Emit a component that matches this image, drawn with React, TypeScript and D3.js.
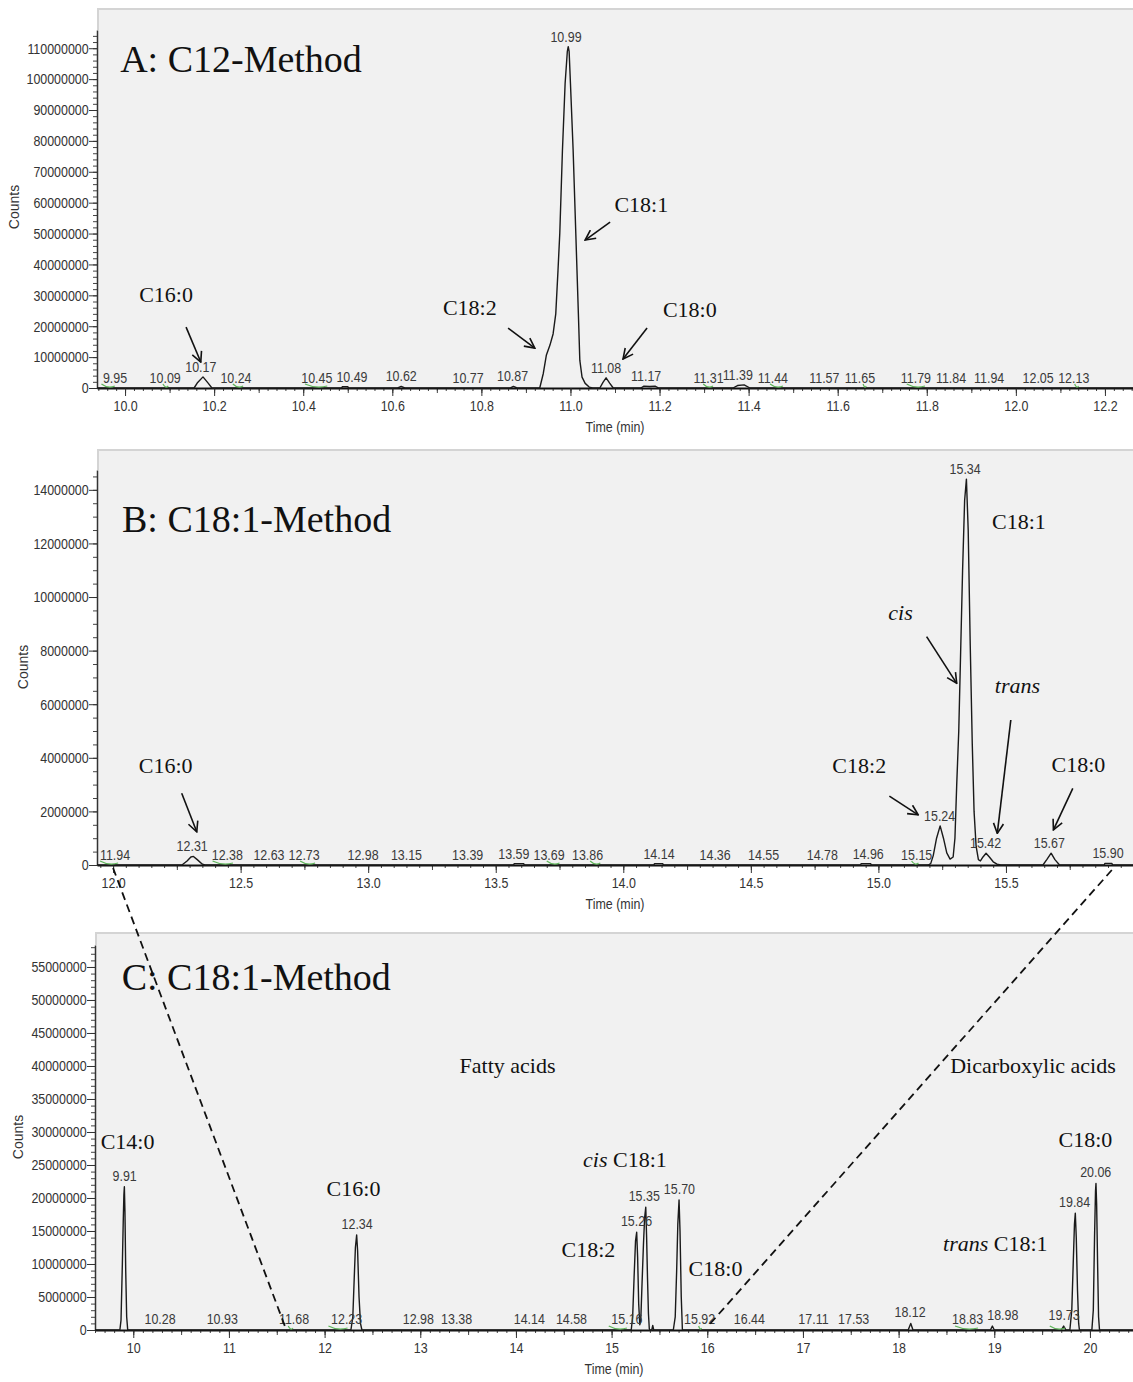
import React, { useRef, useEffect } from "react";
import * as d3 from "d3";

// ---- Panel A: C12-Method (time in min, counts) ----
const traceA: [number, number][] = [
  [9.937, 0], [10.155, 0], [10.163, 1.8e6], [10.175, 3.6e6], [10.187, 1.5e6], [10.195, 0],
  [10.486, 0], [10.488, 0.4e6], [10.5, 0.4e6], [10.502, 0],
  [10.612, 0], [10.62, 0.5e6], [10.628, 0],
  [10.865, 0], [10.872, 0.5e6], [10.88, 0],
  [10.931, 0], [10.939, 4.7e6], [10.946, 10.7e6], [10.954, 13.9e6], [10.961, 17.5e6], [10.967, 24e6],
  [10.972, 38e6], [10.976, 50e6], [10.982, 77e6], [10.988, 98.6e6], [10.993, 109e6], [10.995, 110.5e6],
  [10.997, 109e6], [11.0, 98.6e6], [11.006, 77e6], [11.012, 50e6], [11.018, 23e6], [11.021, 9e6],
  [11.026, 3.5e6], [11.033, 1.5e6], [11.042, 0.3e6], [11.05, 0],
  [11.066, 0], [11.073, 1.8e6], [11.08, 3.3e6], [11.088, 1.6e6], [11.096, 0],
  [11.158, 0], [11.165, 0.6e6], [11.178, 0.5e6], [11.19, 0.6e6], [11.198, 0],
  [11.365, 0], [11.375, 0.8e6], [11.39, 1.0e6], [11.403, 0],
  [12.263, 0],
];
const rtLabelsA = [9.95, 10.09, 10.17, 10.24, 10.45, 10.49, 10.62, 10.77, 10.87, 10.99, 11.08, 11.17,
  11.31, 11.39, 11.44, 11.57, 11.65, 11.79, 11.84, 11.94, 12.05, 12.13];
const greenA: [number, number][] = [[9.947, 9.977], [10.085, 10.097], [10.242, 10.265], [10.404, 10.454],
  [11.298, 11.32], [11.448, 11.477], [11.657, 11.664], [11.755, 11.796], [12.132, 12.141]];
// [italic part, normal part, time, counts]
const notesA: [string, string, number, number][] = [
  ["", "C16:0", 10.092, 27.8e6], ["", "C18:1", 11.159, 57.0e6],
  ["", "C18:2", 10.774, 23.6e6], ["", "C18:0", 11.268, 23.0e6],
];
const arrowsA: number[][] = [
  [10.137, 19.7e6, 10.17, 8.4e6], [11.089, 53.7e6, 11.033, 47.9e6],
  [10.86, 19.4e6, 10.92, 12.9e6], [11.172, 19.4e6, 11.118, 9.4e6],
];

// ---- Panel B: C18:1-Method ----
const traceB: [number, number][] = [
  [11.937, 0], [12.27, 0], [12.29, 0.15e6], [12.305, 0.3e6], [12.315, 0.32e6], [12.33, 0.2e6], [12.35, 0.03e6], [12.36, 0],
  [13.57, 0], [13.572, 0.05e6], [13.61, 0.05e6], [13.612, 0],
  [14.12, 0], [14.122, 0.05e6], [14.155, 0.05e6], [14.157, 0],
  [14.93, 0], [14.932, 0.05e6], [14.97, 0.05e6], [14.972, 0],
  [15.195, 0], [15.205, 0.05e6], [15.215, 0.35e6], [15.228, 1.0e6], [15.242, 1.46e6], [15.255, 1.0e6],
  [15.268, 0.45e6], [15.281, 0.22e6], [15.293, 0.3e6], [15.3, 1.0e6], [15.307, 3.0e6], [15.315, 5.0e6],
  [15.322, 7.8e6], [15.33, 11.0e6], [15.338, 13.6e6], [15.345, 14.4e6], [15.352, 12.5e6], [15.36, 8.2e6],
  [15.368, 4.5e6], [15.375, 2.0e6], [15.383, 0.7e6], [15.392, 0.2e6], [15.4, 0.15e6],
  [15.41, 0.3e6], [15.422, 0.44e6], [15.435, 0.3e6], [15.45, 0.12e6], [15.465, 0.03e6], [15.48, 0],
  [15.645, 0], [15.66, 0.2e6], [15.677, 0.44e6], [15.692, 0.2e6], [15.71, 0],
  [15.885, 0], [15.888, 0.06e6], [15.915, 0.06e6], [15.918, 0],
  [16.0, 0],
];
const rtLabelsB = [11.94, 12.31, 12.38, 12.63, 12.73, 12.98, 13.15, 13.39, 13.59, 13.69, 13.86, 14.14,
  14.36, 14.55, 14.78, 14.96, 15.15, 15.24, 15.34, 15.42, 15.67, 15.9];
const greenB: [number, number][] = [[11.949, 12.02], [12.39, 12.47], [12.733, 12.792], [13.7, 13.75],
  [13.87, 13.91], [15.13, 15.157]];
const notesB: [string, string, number, number][] = [
  ["", "C16:0", 12.206, 3.43e6], ["", "C18:1", 15.551, 12.54e6], ["cis", "", 15.087, 9.14e6],
  ["trans", "", 15.545, 6.42e6], ["", "C18:2", 14.925, 3.43e6], ["", "C18:0", 15.784, 3.47e6],
];
const arrowsB: number[][] = [
  [12.269, 2.68e6, 12.328, 1.24e6], [15.189, 8.52e6, 15.307, 6.78e6], [15.519, 5.41e6, 15.466, 1.18e6],
  [15.043, 2.57e6, 15.156, 1.87e6], [15.762, 2.86e6, 15.686, 1.31e6],
];

// ---- Panel C: C18:1-Method, full run ----
const traceC: [number, number][] = [
  [9.6, 0], [9.86, 0], [9.872, 1.5e6], [9.886, 10e6], [9.896, 17e6], [9.902, 20.5e6], [9.907, 21.7e6],
  [9.913, 18e6], [9.921, 9e6], [9.931, 2e6], [9.942, 0],
  [12.275, 0], [12.295, 2e6], [12.31, 8e6], [12.322, 12.5e6], [12.335, 14.4e6], [12.345, 12e6], [12.36, 5e6], [12.375, 1e6], [12.39, 0],
  [15.205, 0], [15.22, 2e6], [15.235, 8e6], [15.25, 13.5e6], [15.262, 14.8e6], [15.272, 11e6], [15.283, 4e6],
  [15.295, 0.8e6], [15.305, 1.5e6], [15.318, 7e6], [15.333, 13e6], [15.345, 17e6], [15.357, 18.6e6],
  [15.366, 14e6], [15.375, 8e6], [15.385, 2.5e6], [15.394, 0.2e6], [15.4, 0],
  [15.42, 0], [15.43, 0.7e6], [15.44, 0],
  [15.645, 0], [15.665, 2e6], [15.68, 9e6], [15.692, 16e6], [15.705, 19.7e6], [15.715, 15e6], [15.728, 5e6], [15.74, 0],
  [18.1, 0], [18.127, 1.0e6], [18.15, 0],
  [18.96, 0], [18.98, 0.6e6], [19.0, 0],
  [19.7, 0], [19.725, 0.6e6], [19.75, 0],
  [19.79, 0], [19.81, 3e6], [19.825, 10e6], [19.838, 16e6], [19.847, 17.7e6], [19.857, 14e6], [19.87, 6e6], [19.882, 1e6], [19.89, 0],
  [20.02, 0], [20.035, 3e6], [20.048, 14e6], [20.058, 21e6], [20.063, 22.2e6], [20.07, 19e6], [20.08, 10e6], [20.09, 2e6], [20.1, 0],
  [20.45, 0],
];
const rtLabelsC = [9.91, 10.28, 10.93, 11.68, 12.23, 12.34, 12.98, 13.38, 14.14, 14.58, 15.16, 15.26, 15.35,
  15.7, 15.92, 16.44, 17.11, 17.53, 18.12, 18.83, 18.98, 19.73, 19.84, 20.06];
const greenC: [number, number][] = [[11.62, 11.67], [12.04, 12.24], [14.97, 15.16], [15.91, 15.94],
  [18.59, 18.83], [19.58, 19.74]];
const notesC: [string, string, number, number][] = [
  ["", "Fatty acids", 13.912, 38.9e6], ["", "Dicarboxylic acids", 19.405, 38.9e6],
  ["", "C14:0", 9.94, 27.4e6], ["", "C16:0", 12.302, 20.3e6], ["cis", " C18:1", 15.139, 24.7e6],
  ["", "C18:2", 14.757, 11.06e6], ["", "C18:0", 16.086, 8.18e6], ["", "C18:0", 19.952, 27.77e6],
  ["trans", " C18:1", 19.011, 12.01e6],
];

// zoom connection between B and C (times)
const zoomFromB = [12.0, 15.915];
const zoomToC = [11.6, 16.0];

const W = 1133;
const H = 1382;
const SANS = "'Liberation Sans', Arial, sans-serif";
const SERIF = "'Liberation Serif', 'Times New Roman', serif";
const NARROW = 0.83;

type Panel = {
  trace: [number, number][];
  xDomain: [number, number];
  left: number;
  y0: number;
  yTop: number;
  yMax: number;
  bgTop: number;
  xMajor: number; xMid: number; xMinor: number; xFmt: string;
  yMajor: number; yMinor: number;
  rtLabels: number[]; apexWin: number; labelGap: number;
  greens: [number, number][];
  title: string; titleAt: [number, number];
  notes: [string, string, number, number][];
  arrows: number[][];
  countsAt: [number, number];
};

function stepTicks(lo: number, hi: number, step: number) {
  return d3.range(Math.ceil(lo / step - 1e-9), Math.floor(hi / step + 1e-9) + 1).map((i) => +(i * step).toFixed(6));
}

function drawPanel(svg: d3.Selection<SVGSVGElement, unknown, null, undefined>, p: Panel) {
  const x = d3.scaleLinear().domain(p.xDomain).range([p.left, W]);
  const y = d3.scaleLinear().domain([0, p.yMax]).range([p.y0, p.yTop]);
  const g = svg.append("g");

  // plot background
  g.append("rect")
    .attr("x", p.left + 1).attr("y", p.bgTop)
    .attr("width", W - p.left - 1).attr("height", p.y0 - p.bgTop)
    .attr("fill", "#f1f1f1");
  g.append("path")
    .attr("d", `M${p.left + 1},${p.yTop} V${p.bgTop} H${W}`)
    .attr("fill", "none").attr("stroke", "#d4d4d4").attr("stroke-width", 2);

  // y axis: minor then major
  const yMinor = g.append("g").attr("transform", `translate(${p.left},0)`)
    .call(d3.axisLeft(y).tickValues(stepTicks(0, p.yMax, p.yMinor)).tickSize(4).tickFormat(() => ""));
  yMinor.select(".domain").remove();
  yMinor.selectAll("line").attr("stroke", "#444");
  const yAx = g.append("g").attr("transform", `translate(${p.left},0)`)
    .call(d3.axisLeft(y).tickValues(stepTicks(0, p.yMax, p.yMajor)).tickSize(8).tickSizeOuter(0)
      .tickPadding(2).tickFormat(d3.format("d")));
  yAx.attr("font-family", SANS).attr("font-size", 15).attr("color", "#333");
  yAx.selectAll("text").attr("transform", `scale(${NARROW},1)`);
  yAx.select(".domain").attr("stroke-width", 1.5);

  // x axis: minor, mid, major
  const xm = g.append("g").attr("transform", `translate(0,${p.y0})`)
    .call(d3.axisBottom(x).tickValues(stepTicks(p.xDomain[0], p.xDomain[1], p.xMinor)).tickSize(3).tickFormat(() => ""));
  xm.select(".domain").remove();
  xm.selectAll("line").attr("stroke", "#444");
  const xmid = g.append("g").attr("transform", `translate(0,${p.y0})`)
    .call(d3.axisBottom(x).tickValues(stepTicks(p.xDomain[0], p.xDomain[1], p.xMid)).tickSize(5).tickFormat(() => ""));
  xmid.select(".domain").remove();
  xmid.selectAll("line").attr("stroke", "#444");
  const xAx = g.append("g").attr("transform", `translate(0,${p.y0})`)
    .call(d3.axisBottom(x).tickValues(stepTicks(p.xDomain[0], p.xDomain[1], p.xMajor)).tickSize(8).tickSizeOuter(0)
      .tickPadding(4).tickFormat(d3.format(p.xFmt)));
  xAx.attr("font-family", SANS).attr("font-size", 15).attr("color", "#333");
  xAx.selectAll("text").attr("transform", `scale(${NARROW},1)`);
  xAx.select(".domain").attr("stroke", "#111").attr("stroke-width", 2);

  // axis titles
  g.append("text")
    .attr("transform", `translate(${(p.left + W) / 2},${p.y0 + 44}) scale(${NARROW},1)`)
    .attr("text-anchor", "middle").attr("font-family", SANS).attr("font-size", 15).attr("fill", "#333")
    .text("Time (min)");
  g.append("text")
    .attr("transform", `translate(${p.countsAt[0]},${p.countsAt[1]}) rotate(-90)`)
    .attr("text-anchor", "middle").attr("font-family", SANS).attr("font-size", 14).attr("fill", "#333")
    .text("Counts");

  // trace
  const line = d3.line<[number, number]>().x((d) => x(d[0])).y((d) => y(d[1]));
  g.append("path").datum(p.trace).attr("d", line)
    .attr("fill", "none").attr("stroke", "#1a1a1a").attr("stroke-width", 1.4).attr("stroke-linejoin", "round");

  // green integration marks
  g.append("g").selectAll("path").data(p.greens).join("path")
    .attr("d", (d) => {
      const x0 = x(d[0]), x1 = x(d[1]);
      return `M${x0},${p.y0 - 4} Q${(x0 + x1) / 2},${p.y0 + 1} ${x1},${p.y0 - 2}`;
    })
    .attr("fill", "none").attr("stroke", "#5fb55a").attr("stroke-width", 1.2);

  // retention time labels, nudged apart where they would collide
  const apex = (rt: number) => d3.max(p.trace.filter((d) => Math.abs(d[0] - rt) <= p.apexWin), (d) => d[1]) ?? 0;
  const placed = p.rtLabels.map((rt) => {
    const txt = rt.toFixed(2);
    const h = apex(rt);
    return {
      txt,
      cx: Math.max(x(rt), p.left + 18),
      cy: Math.min(p.y0, y(h)) - p.labelGap,
      w: (txt.length - 1) * 0.556 * 15 * NARROW + 0.278 * 15 * NARROW,
      peak: p.y0 - y(h) > 6,
    };
  });
  for (let i = 1; i < placed.length; i++) {
    const a = placed[i - 1], b = placed[i];
    const need = (a.w + b.w) / 2 + 4;
    const d = b.cx - a.cx;
    if (d < need && Math.abs(a.cy - b.cy) < 12) {
      const deficit = need - d;
      if (a.peak && !b.peak) b.cx += deficit;
      else if (b.peak && !a.peak) a.cx -= deficit;
      else { a.cx -= deficit / 2; b.cx += deficit / 2; }
    }
  }
  g.append("g").selectAll("text").data(placed).join("text")
    .attr("transform", (d) => `translate(${d.cx},${d.cy}) scale(${NARROW},1)`)
    .attr("text-anchor", "middle").attr("font-family", SANS).attr("font-size", 15).attr("fill", "#3a3a3a")
    .text((d) => d.txt);

  // title
  g.append("text").attr("x", x(p.titleAt[0])).attr("y", y(p.titleAt[1]))
    .attr("font-family", SERIF).attr("font-size", 38).attr("fill", "#111").text(p.title);

  // annotations
  const notes = g.append("g").selectAll("text").data(p.notes).join("text")
    .attr("x", (d) => x(d[2])).attr("y", (d) => y(d[3]))
    .attr("text-anchor", "middle").attr("font-family", SERIF).attr("font-size", 22).attr("fill", "#111");
  notes.each(function (d) {
    const t = d3.select(this);
    if (d[0]) t.append("tspan").attr("font-style", "italic").text(d[0]);
    if (d[1]) t.append("tspan").text(d[1]);
  });

  g.append("g").selectAll("line").data(p.arrows).join("line")
    .attr("x1", (d) => x(d[0])).attr("y1", (d) => y(d[1]))
    .attr("x2", (d) => x(d[2])).attr("y2", (d) => y(d[3]))
    .attr("stroke", "#111").attr("stroke-width", 1.6).attr("marker-end", "url(#ah)");

  return { x, y };
}

export default function App() {
  const svgRef = useRef<SVGSVGElement | null>(null);

  useEffect(() => {
    const svg = d3.select(svgRef.current as SVGSVGElement);
    svg.selectAll("*").remove();

    svg.append("rect").attr("width", W).attr("height", H).attr("fill", "#fff");

    svg.append("defs").append("marker")
      .attr("id", "ah").attr("viewBox", "0 0 12 12").attr("refX", 11).attr("refY", 6)
      .attr("markerWidth", 12).attr("markerHeight", 12).attr("markerUnits", "userSpaceOnUse")
      .attr("orient", "auto")
      .append("path").attr("d", "M1,1 L11,6 L1,11").attr("fill", "none")
      .attr("stroke", "#111").attr("stroke-width", 1.6);

    drawPanel(svg, {
      trace: traceA, xDomain: [9.937, 12.263], left: 97, y0: 388, yTop: 30, yMax: 115.9e6, bgTop: 9,
      xMajor: 0.2, xMid: 0.1, xMinor: 0.02, xFmt: ".1f", yMajor: 10e6, yMinor: 2e6,
      rtLabels: rtLabelsA, apexWin: 0.012, labelGap: 5, greens: greenA,
      title: "A: C12-Method", titleAt: [9.989, 102.3e6], notes: notesA, arrows: arrowsA,
      countsAt: [19, 207],
    });
    const b = drawPanel(svg, {
      trace: traceB, xDomain: [11.937, 15.998], left: 97, y0: 865, yTop: 470, yMax: 14.74e6, bgTop: 450,
      xMajor: 0.5, xMid: 0.25, xMinor: 0.05, xFmt: ".1f", yMajor: 2e6, yMinor: 0.5e6,
      rtLabels: rtLabelsB, apexWin: 0.02, labelGap: 5, greens: greenB,
      title: "B: C18:1-Method", titleAt: [12.035, 12.43e6], notes: notesB, arrows: arrowsB,
      countsAt: [28, 667],
    });
    const c = drawPanel(svg, {
      trace: traceC, xDomain: [9.6, 20.45], left: 95, y0: 1330, yTop: 945, yMax: 58.33e6, bgTop: 933,
      xMajor: 1, xMid: 0.5, xMinor: 0.1, xFmt: "d", yMajor: 5e6, yMinor: 1e6,
      rtLabels: rtLabelsC, apexWin: 0.03, labelGap: 6, greens: greenC,
      title: "C: C18:1-Method", titleAt: [9.879, 51.5e6], notes: notesC, arrows: [],
      countsAt: [23, 1137],
    });

    // dashed zoom lines from panel B to panel C
    svg.append("g").selectAll("line").data([0, 1]).join("line")
      .attr("x1", (i) => b.x(zoomFromB[i])).attr("y1", (i) => b.y(0) + 3 + i * 2)
      .attr("x2", (i) => c.x(zoomToC[i])).attr("y2", (i) => c.y(0) - i * 3)
      .attr("stroke", "#111").attr("stroke-width", 1.8).attr("stroke-dasharray", "8,5");
  }, []);

  return (
    <div style={{ position: "absolute", left: 0, top: 0 }}>
      <svg ref={svgRef} width={W} height={H} style={{ display: "block" }} />
    </div>
  );
}
